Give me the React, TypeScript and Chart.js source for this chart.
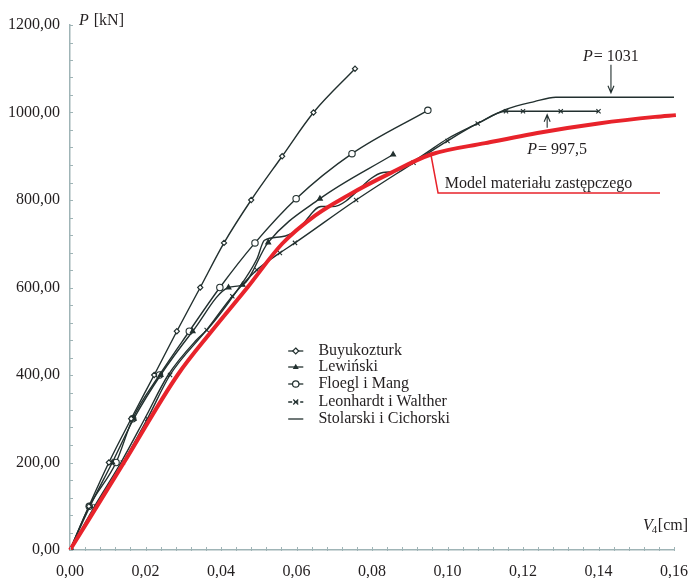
import React, { useEffect, useRef } from 'react';
import { Chart, registerables } from 'chart.js';

Chart.register(...registerables);

// ---------- data: V4 [cm] and P [kN] ----------
const buyukozturkV = [0, 0.005, 0.0103, 0.0162, 0.0223, 0.0283, 0.0345, 0.0408, 0.048, 0.0562, 0.0645, 0.0755];
const buyukozturkP = [0, 100, 200, 300, 400, 500, 600, 702, 800, 900, 1000, 1100];

const lewinskiV = [0, 0.0053, 0.0112, 0.0169, 0.024, 0.0325, 0.042, 0.0457, 0.0525, 0.0662, 0.0856];
const lewinskiP = [0, 100, 200, 300, 400, 500, 600, 606, 703, 803, 904];

const floeglV = [0, 0.0051, 0.0122, 0.0166, 0.0237, 0.0316, 0.0397, 0.049, 0.0599, 0.0747, 0.0948];
const floeglP = [0, 100, 200, 300, 400, 500, 600, 702, 803, 906, 1005];

const leonhardtV = [0, 0.0068, 0.014, 0.0205, 0.0265, 0.0362, 0.043, 0.0495, 0.0556, 0.0596, 0.0758, 0.091, 0.1, 0.108, 0.1155, 0.12, 0.13, 0.14];
const leonhardtP = [0, 100, 200, 300, 400, 503, 580, 640, 679, 702, 800, 885, 935, 975, 1003, 1003, 1003, 1003];

const stolarskiV = [0, 0.0065, 0.0135, 0.0198, 0.026, 0.0335, 0.0365, 0.044, 0.0495, 0.0515, 0.056, 0.0604, 0.0665, 0.0695, 0.0829, 0.0858, 0.093, 0.1, 0.108, 0.1155, 0.123, 0.1287, 0.16];
const stolarskiP = [0, 100, 200, 300, 400, 480, 505, 590, 665, 708, 716, 733, 785, 785, 863, 865, 900, 940, 975, 1007, 1025, 1035, 1035];

const modelV = [0, 0.0143, 0.0285, 0.0375, 0.047, 0.0562, 0.065, 0.0735, 0.085, 0.0956, 0.11, 0.125, 0.14, 0.155, 0.1605];
const modelP = [0, 200, 400, 500, 600, 700, 765, 810, 862, 904, 930, 955, 975, 990, 994];

const seriesNames = ['Buyukozturk', 'Lewiński', 'Floegl i Mang', 'Leonhardt i Walther', 'Stolarski i Cichorski'];
const modelName = 'Model materiału zastępczego';
const xTickValues = [0, 0.02, 0.04, 0.06, 0.08, 0.1, 0.12, 0.14, 0.16];
const yTickValues = [0, 200, 400, 600, 800, 1000, 1200];

// ---------- styles ----------
const FONT = '"Liberation Serif", "DejaVu Serif", serif';
const INK = '#231f20';
const LINE = '#22302f';
const AXIS = '#9fb4b6';
const RED = '#e8232b';

const fmt = (v: number) => Number(v).toFixed(2).replace('.', ',');
const pts = (xs: number[], ys: number[]) => xs.map((x, i) => ({ x, y: ys[i] }));

type Mk = 'diamond' | 'triangle' | 'circle' | 'cross' | 'none';
const markers: Mk[] = ['diamond', 'triangle', 'circle', 'cross', 'none'];

function drawMarker(ctx: CanvasRenderingContext2D, kind: Mk, x: number, y: number) {
  ctx.save();
  ctx.strokeStyle = LINE;
  ctx.fillStyle = '#ffffff';
  ctx.lineWidth = 1.2;
  ctx.beginPath();
  if (kind === 'diamond') {
    ctx.moveTo(x, y - 3); ctx.lineTo(x + 3, y); ctx.lineTo(x, y + 3); ctx.lineTo(x - 3, y); ctx.closePath();
    ctx.fill(); ctx.stroke();
  } else if (kind === 'triangle') {
    ctx.fillStyle = LINE;
    ctx.moveTo(x, y - 3.2); ctx.lineTo(x + 3, y + 2); ctx.lineTo(x - 3, y + 2); ctx.closePath();
    ctx.fill();
  } else if (kind === 'circle') {
    ctx.arc(x, y, 3.2, 0, Math.PI * 2);
    ctx.fill(); ctx.stroke();
  } else if (kind === 'cross') {
    ctx.moveTo(x - 2.5, y - 2.5); ctx.lineTo(x + 2.5, y + 2.5);
    ctx.moveTo(x + 2.5, y - 2.5); ctx.lineTo(x - 2.5, y + 2.5);
    ctx.stroke();
  }
  ctx.restore();
}

function italicP(ctx: CanvasRenderingContext2D, text: string, x: number, y: number, size = 16) {
  ctx.font = `italic ${size}px ${FONT}`;
  ctx.fillText('P', x, y);
  const w = ctx.measureText('P').width;
  ctx.font = `${size}px ${FONT}`;
  ctx.fillText(text, x + w + 1, y);
}

function arrow(ctx: CanvasRenderingContext2D, x: number, y1: number, y2: number) {
  ctx.beginPath();
  ctx.moveTo(x, y1); ctx.lineTo(x, y2);
  const d = y2 > y1 ? -1 : 1;
  ctx.moveTo(x - 3, y2 + d * 7); ctx.lineTo(x, y2); ctx.lineTo(x + 3, y2 + d * 7);
  ctx.stroke();
}

const overlay = {
  id: 'overlay',
  afterDatasetsDraw(chart: any) {
    const { ctx, chartArea: a } = chart;
    const xs = chart.scales.x;
    const ys = chart.scales.y;
    const X = (v: number) => xs.getPixelForValue(v);
    const Y = (v: number) => ys.getPixelForValue(v);
    ctx.save();

    // minor ticks
    ctx.strokeStyle = AXIS;
    ctx.lineWidth = 1;
    for (let i = 0; i <= 30; i++) {
      const py = Math.round(Y(i * 40)) + 0.5;
      ctx.beginPath(); ctx.moveTo(a.left - 1, py); ctx.lineTo(a.left + 3, py); ctx.stroke();
    }
    for (let i = 0; i <= 40; i++) {
      const px = Math.round(X(i * 0.004)) + 0.5;
      ctx.beginPath(); ctx.moveTo(px, a.bottom + 1); ctx.lineTo(px, a.bottom - 3); ctx.stroke();
    }

    ctx.fillStyle = INK;
    ctx.textBaseline = 'middle';
    ctx.textAlign = 'left';

    // axis titles
    italicP(ctx, ' [kN]', a.left + 9, a.top - 4, 16);
    ctx.font = `italic 16px ${FONT}`;
    const vx = X(0.1518), vy = Y(55);
    ctx.fillText('V', vx, vy);
    const vw = ctx.measureText('V').width;
    ctx.font = `11px ${FONT}`;
    ctx.fillText('4', vx + vw - 1, vy + 4);
    ctx.font = `16px ${FONT}`;
    ctx.fillText('[cm]', vx + vw + 5, vy);

    // annotations
    italicP(ctx, '= 1031', X(0.1359), Y(1127), 16);
    italicP(ctx, '= 997,5', X(0.1211), Y(914), 16);
    ctx.strokeStyle = LINE;
    ctx.lineWidth = 1.1;
    arrow(ctx, X(0.1433), Y(1109), Y(1045));
    arrow(ctx, X(0.1264), Y(965), Y(995));

    // red callout
    ctx.strokeStyle = RED;
    ctx.lineWidth = 1.5;
    ctx.beginPath();
    ctx.moveTo(X(0.0956), Y(904));
    ctx.lineTo(X(0.0975), Y(816));
    ctx.lineTo(X(0.1563), Y(816));
    ctx.stroke();
    ctx.fillStyle = INK;
    ctx.font = `16px ${FONT}`;
    ctx.fillText(modelName, X(0.0993), Y(837));

    // legend
    const lx0 = X(0.0578), lx1 = X(0.0618), tx = X(0.0658);
    const rowY = [351, 367, 384, 402, 419];
    seriesNames.forEach((name, i) => {
      const y = rowY[i];
      ctx.strokeStyle = LINE;
      ctx.lineWidth = 1.3;
      ctx.setLineDash(i === 3 ? [4, 2] : []);
      ctx.beginPath(); ctx.moveTo(lx0, y); ctx.lineTo(lx1, y); ctx.stroke();
      ctx.setLineDash([]);
      drawMarker(ctx, markers[i], (lx0 + lx1) / 2, y);
      ctx.fillStyle = INK;
      ctx.font = `16px ${FONT}`;
      ctx.fillText(name, tx, y);
    });

    ctx.restore();
  },
};

export default function App() {
  const ref = useRef<HTMLCanvasElement>(null);
  useEffect(() => {
    document.body.style.margin = '0';
    const canvas = ref.current!;
    const base = { borderColor: LINE, borderWidth: 1.4, fill: false, cubicInterpolationMode: 'monotone' as const, pointBorderColor: LINE, pointBorderWidth: 1.1 };
    const chart = new Chart(canvas, {
      type: 'line',
      data: {
        datasets: [
          { label: modelName, data: pts(modelV, modelP), borderColor: RED, borderWidth: 4, pointRadius: 0, fill: false, cubicInterpolationMode: 'monotone', clip: false } as any,
          { ...base, label: seriesNames[0], data: pts(buyukozturkV, buyukozturkP), pointStyle: 'rectRot', pointRadius: 2.6, pointBackgroundColor: '#fff' },
          { ...base, label: seriesNames[1], data: pts(lewinskiV, lewinskiP), pointStyle: 'triangle', pointRadius: 2.8, pointBackgroundColor: LINE },
          { ...base, label: seriesNames[2], data: pts(floeglV, floeglP), pointStyle: 'circle', pointRadius: 3.2, pointBackgroundColor: '#fff' },
          { ...base, label: seriesNames[3], data: pts(leonhardtV, leonhardtP), pointStyle: 'crossRot', pointRadius: 3, pointBackgroundColor: '#fff' },
          { ...base, label: seriesNames[4], data: pts(stolarskiV, stolarskiP), pointRadius: 0 },
        ],
      },
      options: {
        animation: false,
        responsive: false,
        maintainAspectRatio: false,
        layout: { padding: { top: 25, right: 15, left: 0, bottom: 0 } },
        plugins: { legend: { display: false }, tooltip: { enabled: false } },
        scales: {
          x: {
            type: 'linear', min: 0, max: 0.16,
            grid: { display: false, drawTicks: false },
            border: { display: true, color: AXIS, width: 1.5 },
            ticks: { padding: 12, color: INK, font: { family: FONT, size: 16 }, maxRotation: 0, autoSkip: false, callback: (v: any) => fmt(v) },
            afterBuildTicks: (s: any) => { s.ticks = xTickValues.map((v) => ({ value: v })); },
            afterFit: (s: any) => { s.height = 28; s.paddingLeft = 0; s.paddingRight = 0; },
          },
          y: {
            type: 'linear', min: 0, max: 1200,
            grid: { display: false, drawTicks: false },
            border: { display: true, color: AXIS, width: 1.5 },
            ticks: { padding: 10, color: INK, font: { family: FONT, size: 16 }, autoSkip: false, callback: (v: any) => fmt(v) },
            afterBuildTicks: (s: any) => { s.ticks = yTickValues.map((v) => ({ value: v })); },
            afterFit: (s: any) => { s.width = 70; s.paddingTop = 0; s.paddingBottom = 0; },
          },
        },
      },
      plugins: [overlay],
    });
    return () => chart.destroy();
  }, []);
  return <canvas ref={ref} width={689} height={578} style={{ display: 'block' }} />;
}
